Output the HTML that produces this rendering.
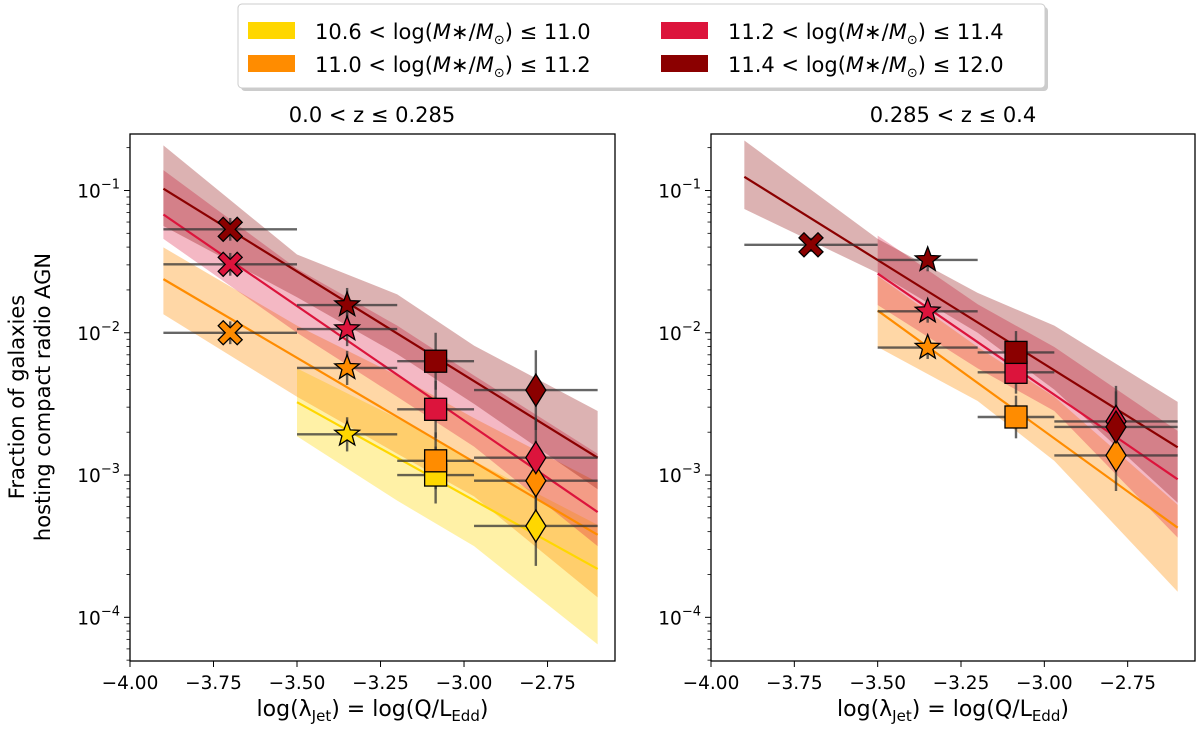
<!DOCTYPE html>
<html><head><meta charset="utf-8"><style>
body{margin:0;background:#fff;}
svg{display:block;font-family:"DejaVu Sans","Liberation Sans",sans-serif;}
</style></head><body>
<svg id="fig" width="1200" height="731" viewBox="0 0 1200 731" xmlns="http://www.w3.org/2000/svg">
<g>
<rect x="241" y="7" width="807" height="84" rx="4" fill="#ccc"/>
<rect x="238" y="4" width="807" height="84" rx="4" fill="#fff" stroke="#ccc"/>
<rect x="248" y="22" width="47" height="17" fill="#ffd700"/>
<text x="315" y="39" font-size="21">10.6 &lt; log(<tspan font-style="italic">M</tspan>∗/<tspan font-style="italic">M</tspan><tspan font-size="13" dy="5">⊙</tspan><tspan dy="-5">) ≤ 11.0</tspan></text>
<rect x="248" y="55" width="47" height="17" fill="#ff8c00"/>
<text x="315" y="72" font-size="21">11.0 &lt; log(<tspan font-style="italic">M</tspan>∗/<tspan font-style="italic">M</tspan><tspan font-size="13" dy="5">⊙</tspan><tspan dy="-5">) ≤ 11.2</tspan></text>
<rect x="661" y="22" width="47" height="17" fill="#dc143c"/>
<text x="728" y="39" font-size="21">11.2 &lt; log(<tspan font-style="italic">M</tspan>∗/<tspan font-style="italic">M</tspan><tspan font-size="13" dy="5">⊙</tspan><tspan dy="-5">) ≤ 11.4</tspan></text>
<rect x="661" y="55" width="47" height="17" fill="#8b0000"/>
<text x="728" y="72" font-size="21">11.4 &lt; log(<tspan font-style="italic">M</tspan>∗/<tspan font-style="italic">M</tspan><tspan font-size="13" dy="5">⊙</tspan><tspan dy="-5">) ≤ 12.0</tspan></text>
</g>
<text x="372" y="122" font-size="21" text-anchor="middle">0.0 &lt; z  ≤ 0.285</text>
<text x="953" y="122" font-size="21" text-anchor="middle">0.285 &lt; z  ≤ 0.4</text>
<text transform="translate(24,397) rotate(-90)" font-size="21" text-anchor="middle">Fraction of galaxies</text>
<text transform="translate(50,397) rotate(-90)" font-size="21" text-anchor="middle">hosting compact radio AGN</text>
<g id="left"></g>
<g id="right"></g>
</svg>
<script>
const COLORS = ['#ffd700','#ff8c00','#dc143c','#8b0000'];
const BIN_X = [-3.7,-3.35,-3.085,-2.785];
const BIN_LO = [-3.9,-3.5,-3.2,-2.97];
const BIN_HI = [-3.5,-3.2,-2.97,-2.6];
const X_TICKS = [-4.0,-3.75,-3.5,-3.25,-3.0,-2.75];
const X_TICK_LABELS = ['−4.00','−3.75','−3.50','−3.25','−3.00','−2.75'];
const Y_TICKS = [-1,-2,-3,-4];
// left panel (log10 fraction); null = no point
const L_GOLD = [null,-2.714,-3.0,-3.358];
const L_ORANGE = [-2.0,-2.247,-2.90,-3.04];
const L_CRIMSON = [-1.519,-1.974,-2.538,-2.878];
const L_DARKRED = [-1.273,-1.805,-2.20,-2.403];
const L_ERR = [0.08,0.12,0.2,0.28];
const L_LINES = [[-3.5,-2.488,-2.6,-3.66],[-3.9,-1.623,-2.6,-3.42],[-3.9,-1.169,-2.6,-3.26],[-3.9,-0.987,-2.6,-2.878]];
const BAND_X5 = [-3.9,-3.5,-3.2,-2.97,-2.6];
const BAND_X4 = [-3.5,-3.2,-2.97,-2.6];
const L_GOLD_UP = [-2.25,-2.6,-2.9,-3.35], L_GOLD_LO = [-2.727,-3.18,-3.5,-4.19];
const L_OR_UP = [-1.40,-1.95,-2.3,-2.6,-3.05], L_OR_LO = [-1.87,-2.45,-2.85,-3.15,-3.86];
const L_CR_UP = [-0.857,-1.55,-1.95,-2.3,-2.85], L_CR_LO = [-1.34,-2.0,-2.45,-2.8,-3.5];
const L_DR_UP = [-0.683,-1.45,-1.73,-2.09,-2.55], L_DR_LO = [-1.25,-1.75,-2.15,-2.5,-3.1];
// right panel
const R_GOLD = [null,null,null,null];
const R_ORANGE = [null,-2.104,-2.592,-2.862];
const R_CRIMSON = [null,-1.849,-2.278,-2.623];
const R_DARKRED = [-1.382,-1.488,-2.138,-2.662];
const R_ERR = [0.05,0.08,0.15,0.25];
const R_LINES = [null,[-3.5,-1.844,-2.6,-3.37],[-3.5,-1.584,-2.6,-3.03],[-3.9,-0.904,-2.6,-2.805]];
const R_OR_UP = [-1.6,-2.1,-2.45,-3.21], R_OR_LO = [-2.10,-2.48,-2.9,-3.82];
const R_CR_UP = [-1.317,-1.8,-2.1,-2.69], R_CR_LO = [-1.805,-2.25,-2.55,-3.44];
const R_DR_UP = [-0.649,-1.34,-1.72,-1.95,-2.486], R_DR_LO = [-1.13,-1.58,-2.0,-2.4,-3.195];
const MARKERS = ['x','star','square','diamond'];

const NS='http://www.w3.org/2000/svg';
function mk(parent,tag,attrs){const e=document.createElementNS(NS,tag);for(const k in attrs)e.setAttribute(k,attrs[k]);parent.appendChild(e);return e;}

function draw(id,L,R,bands,lines,series,err){
  const g=document.getElementById(id);
  const T=134,B=661;
  const xmin=-4.0,xmax=-2.548,ymin=-4.307,ymax=-0.603;
  const sx=v=>L+(v-xmin)/(xmax-xmin)*(R-L);
  const sy=v=>B-(v-ymin)/(ymax-ymin)*(B-T);
  const clip='clip'+id;
  const defs=mk(g,'defs',{});
  const cp=mk(defs,'clipPath',{id:clip});
  mk(cp,'rect',{x:L,y:T,width:R-L,height:B-T});
  const plot=mk(g,'g',{'clip-path':'url(#'+clip+')'});
  
  
  bands.forEach(b=>{
    const [xs,up,lo,col,op,name]=b;
    let pts=xs.map((x,i)=>sx(x)+','+sy(up[i]));
    for(let i=xs.length-1;i>=0;i--)pts.push(sx(xs[i])+','+sy(lo[i]));
    const p=mk(plot,'polygon',{points:pts.join(' '),fill:col,'fill-opacity':op});
    
    
  });
  lines.forEach((l,i)=>{
    if(!l)return;
    const e=mk(plot,'line',{x1:sx(l[0]),y1:sy(l[1]),x2:sx(l[2]),y2:sy(l[3]),stroke:COLORS[i],'stroke-width':2.2});
    
    
  });
  series.forEach((s,si)=>{
    s.forEach((v,j)=>{
      if(v===null)return;
      const y=sy(v);
      const eb=mk(plot,'g',{stroke:'#333','stroke-opacity':0.75,'stroke-width':2.4});
      
      
      mk(eb,'line',{x1:sx(BIN_LO[j]),x2:sx(BIN_HI[j]),y1:y,y2:y});
      mk(eb,'line',{x1:sx(BIN_X[j]),x2:sx(BIN_X[j]),y1:sy(v+err[j]),y2:sy(v-err[j])});
    });
  });
  series.forEach((s,si)=>{
    s.forEach((v,j)=>{
      if(v===null)return;
      const cx=sx(BIN_X[j]),cy=sy(v),c=COLORS[si];
      let m;
      const st={fill:c,stroke:'#000','stroke-width':1.3};
      if(MARKERS[j]==='square'){m=mk(plot,'rect',Object.assign({x:cx-11,y:cy-11,width:22,height:22},st));}
      else if(MARKERS[j]==='diamond'){m=mk(plot,'polygon',Object.assign({points:`${cx},${cy-16} ${cx+10},${cy} ${cx},${cy+16} ${cx-10},${cy}`},st));}
      else if(MARKERS[j]==='star'){
        let p=[];for(let k=0;k<10;k++){const r=k%2?5.5:13;const a=-Math.PI/2+k*Math.PI/5;p.push((cx+r*Math.cos(a)).toFixed(1)+','+(cy+r*Math.sin(a)).toFixed(1));}
        m=mk(plot,'polygon',Object.assign({points:p.join(' ')},st));
      } else {
        const a=12,w=5;
        const pts=[[-a+w,-a],[0,-w],[a-w,-a],[a,-a+w],[w,0],[a,a-w],[a-w,a],[0,w],[-a+w,a],[-a,a-w],[-w,0],[-a,-a+w]];
        m=mk(plot,'polygon',Object.assign({points:pts.map(q=>(cx+q[0])+','+(cy+q[1])).join(' ')},st));
      }
      
      
    });
  });
  const fr=mk(g,'rect',{x:L,y:T,width:R-L,height:B-T,fill:'none',stroke:'#000','stroke-width':1.3});
  
  
  X_TICKS.forEach((t,i)=>{
    const x=sx(t);
    mk(g,'line',{x1:x,x2:x,y1:B,y2:B+6,stroke:'#000','stroke-width':1});
    const tx=mk(g,'text',{x:x,y:B+28,'font-size':18.5,'text-anchor':'middle'});
    tx.textContent=X_TICK_LABELS[i];
    
    
  });
  Y_TICKS.forEach(t=>{
    const y=sy(t);
    mk(g,'line',{x1:L-6,x2:L,y1:y,y2:y,stroke:'#000','stroke-width':1});
    const tx=mk(g,'text',{x:L-10,y:y+7,'font-size':18.5,'text-anchor':'end'});
    tx.innerHTML='10<tspan font-size="13" dy="-9">−'+(-t)+'</tspan>';
    
    
  });
  for(let d=-5;d<0;d++)for(let k=2;k<10;k++){
    const v=d+Math.log10(k);
    if(v<ymin||v>ymax)continue;
    mk(g,'line',{x1:L-3.5,x2:L,y1:sy(v),y2:sy(v),stroke:'#000','stroke-width':0.8});
  }
  const xl=mk(g,'text',{x:(L+R)/2,y:716,'font-size':22,'text-anchor':'middle'});
  xl.innerHTML='log(λ<tspan font-size="15" dy="5">Jet</tspan><tspan dy="-5">) = log(Q/L</tspan><tspan font-size="15" dy="5">Edd</tspan><tspan dy="-5">)</tspan>';
  
  
}

draw('left',130,615,
  [[BAND_X4,L_GOLD_UP,L_GOLD_LO,'#ffd700',0.35,'band-gold'],
   [BAND_X5,L_OR_UP,L_OR_LO,'#ff8c00',0.35,'band-orange'],
   [BAND_X5,L_CR_UP,L_CR_LO,'#dc143c',0.3,'band-crimson'],
   [BAND_X5,L_DR_UP,L_DR_LO,'#8b0000',0.3,'band-darkred']],
  L_LINES,[L_GOLD,L_ORANGE,L_CRIMSON,L_DARKRED],L_ERR);
draw('right',711,1195,
  [[BAND_X4,R_OR_UP,R_OR_LO,'#ff8c00',0.35,'band-orange'],
   [BAND_X4,R_CR_UP,R_CR_LO,'#dc143c',0.3,'band-crimson'],
   [BAND_X5,R_DR_UP,R_DR_LO,'#8b0000',0.3,'band-darkred']],
  R_LINES,[R_GOLD,R_ORANGE,R_CRIMSON,R_DARKRED],R_ERR);
</script>
</body></html>
